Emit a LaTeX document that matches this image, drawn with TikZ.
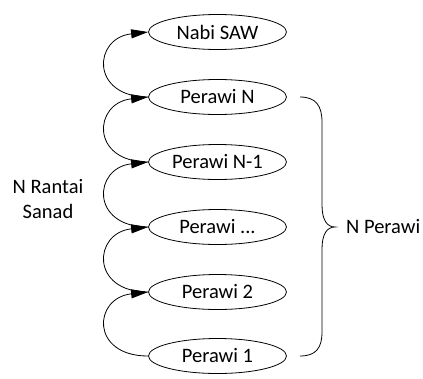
\documentclass[tikz,border=0pt]{standalone}
\usepackage{fontspec}
\setmainfont{Carlito}
\usetikzlibrary{arrows.meta,shapes.geometric}
\begin{document}
\begin{tikzpicture}[x=1pt,y=-1pt,
  perawi/.style={draw,ellipse,minimum width=138pt,minimum height=35pt,inner sep=0pt,line width=0.8pt,font=\fontsize{20.5}{25}\selectfont},
  lbl/.style={font=\fontsize{20.5}{25}\selectfont,inner sep=0pt},
  chain/.style={line width=0.8pt,-{Triangle[length=17pt,width=9pt]}},
  bracel/.style={line width=0.8pt}]
\useasboundingbox (0,0) rectangle (423,378);
\node[perawi] (s) at (217.5,32) {Nabi SAW};
\node[perawi] (n) at (217.5,97) {Perawi N};
\node[perawi] (n1) at (217.5,162) {Perawi N-1};
\node[perawi] (d) at (217.5,227) {Perawi ...};
\node[perawi] (p2) at (217.5,292) {Perawi 2};
\node[perawi] (p1) at (217.5,356) {Perawi 1};
\foreach \a/\b in {p1/p2,p2/d,d/n1,n1/n,n/s}{
  \draw[chain] (\a.west) .. controls +(-58,0) and +(-55,6) .. (\b.west);
}
\node[lbl,align=center] (rs) at (48,199) {N Rantai\\Sanad};
\draw[bracel] (300,97) .. controls (316,97) and (322,106) .. (322,122)
  -- (322,205) .. controls (322,220) and (327,227) .. (335,227)
  .. controls (327,227) and (322,234) .. (322,249)
  -- (322,332) .. controls (322,348) and (316,356) .. (300,356);
\coordinate (tip) at (335,227);
\node[lbl,anchor=west] (np) at (346,227) {N Perawi};
\end{tikzpicture}
\end{document}
